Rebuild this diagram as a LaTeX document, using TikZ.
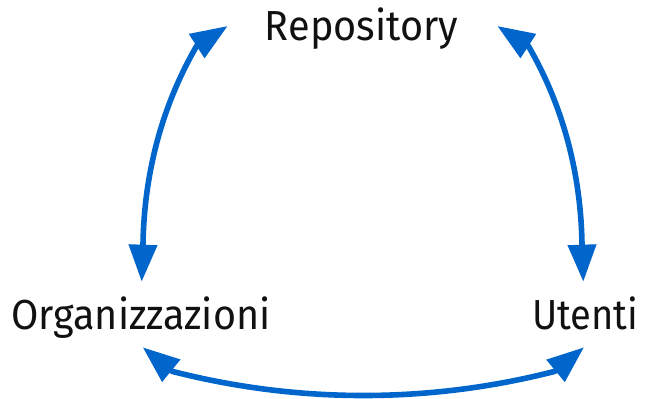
\documentclass[tikz,border=0pt]{standalone}
\usepackage{fontspec}
\setmainfont{Fira Sans}
\usepackage{graphicx}
\usetikzlibrary{arrows.meta,calc}
\definecolor{linkblue}{RGB}{0,102,204}
\definecolor{labelink}{RGB}{17,17,17}
\tikzset{
  lbl/.style={inner sep=0pt, anchor=base, text=labelink},
  link/.style={draw=linkblue, line width=5.6pt, line join=round,
    arrows={Triangle[length=37pt,width=27.5pt,fill=linkblue]-Triangle[length=37pt,width=27.5pt,fill=linkblue]}}
}
\newcommand{\lblfont}{\fontsize{42}{42}\selectfont}
\begin{document}
\begin{tikzpicture}[x=1pt,y=1pt]
\useasboundingbox (0,0) rectangle (646,399);
\node[lbl] (r) at (361.5,358.3) {\resizebox{193pt}{\height}{\lblfont Repository}};
\node[lbl] (o) at (141,69.5) {\resizebox{259pt}{\height}{\lblfont Organizzazioni}};
\node[lbl] (u) at (585,69.5) {\resizebox{106pt}{\height}{\lblfont Utenti}};
% left: Organizzazioni <-> Repository
\draw[link] ([shift={(0.7,47.8)}]o.base) -- ([shift={(2,85.5)}]o.base)
  .. controls +(89:70) and +(240:70) .. ([shift={(-165,-5.5)}]r.base)
  -- ([shift={(-133.8,14.7)}]r.base);
% right: Utenti <-> Repository
\draw[link] ([shift={(-1.7,47.8)}]u.base) -- ([shift={(-3,85.5)}]u.base)
  .. controls +(91:70) and +(300:70) .. ([shift={(167,-5.5)}]r.base)
  -- ([shift={(135.8,14.7)}]r.base);
% bottom: Organizzazioni <-> Utenti
\draw[link] ([shift={(1.7,-17.8)}]o.base) -- ([shift={(31,-41.8)}]o.base)
  .. controls +(-14.4:129.8) and +(194.4:129.8) .. ([shift={(-30,-41.8)}]u.base)
  -- ([shift={(-1,-17.8)}]u.base);
\end{tikzpicture}
\end{document}
